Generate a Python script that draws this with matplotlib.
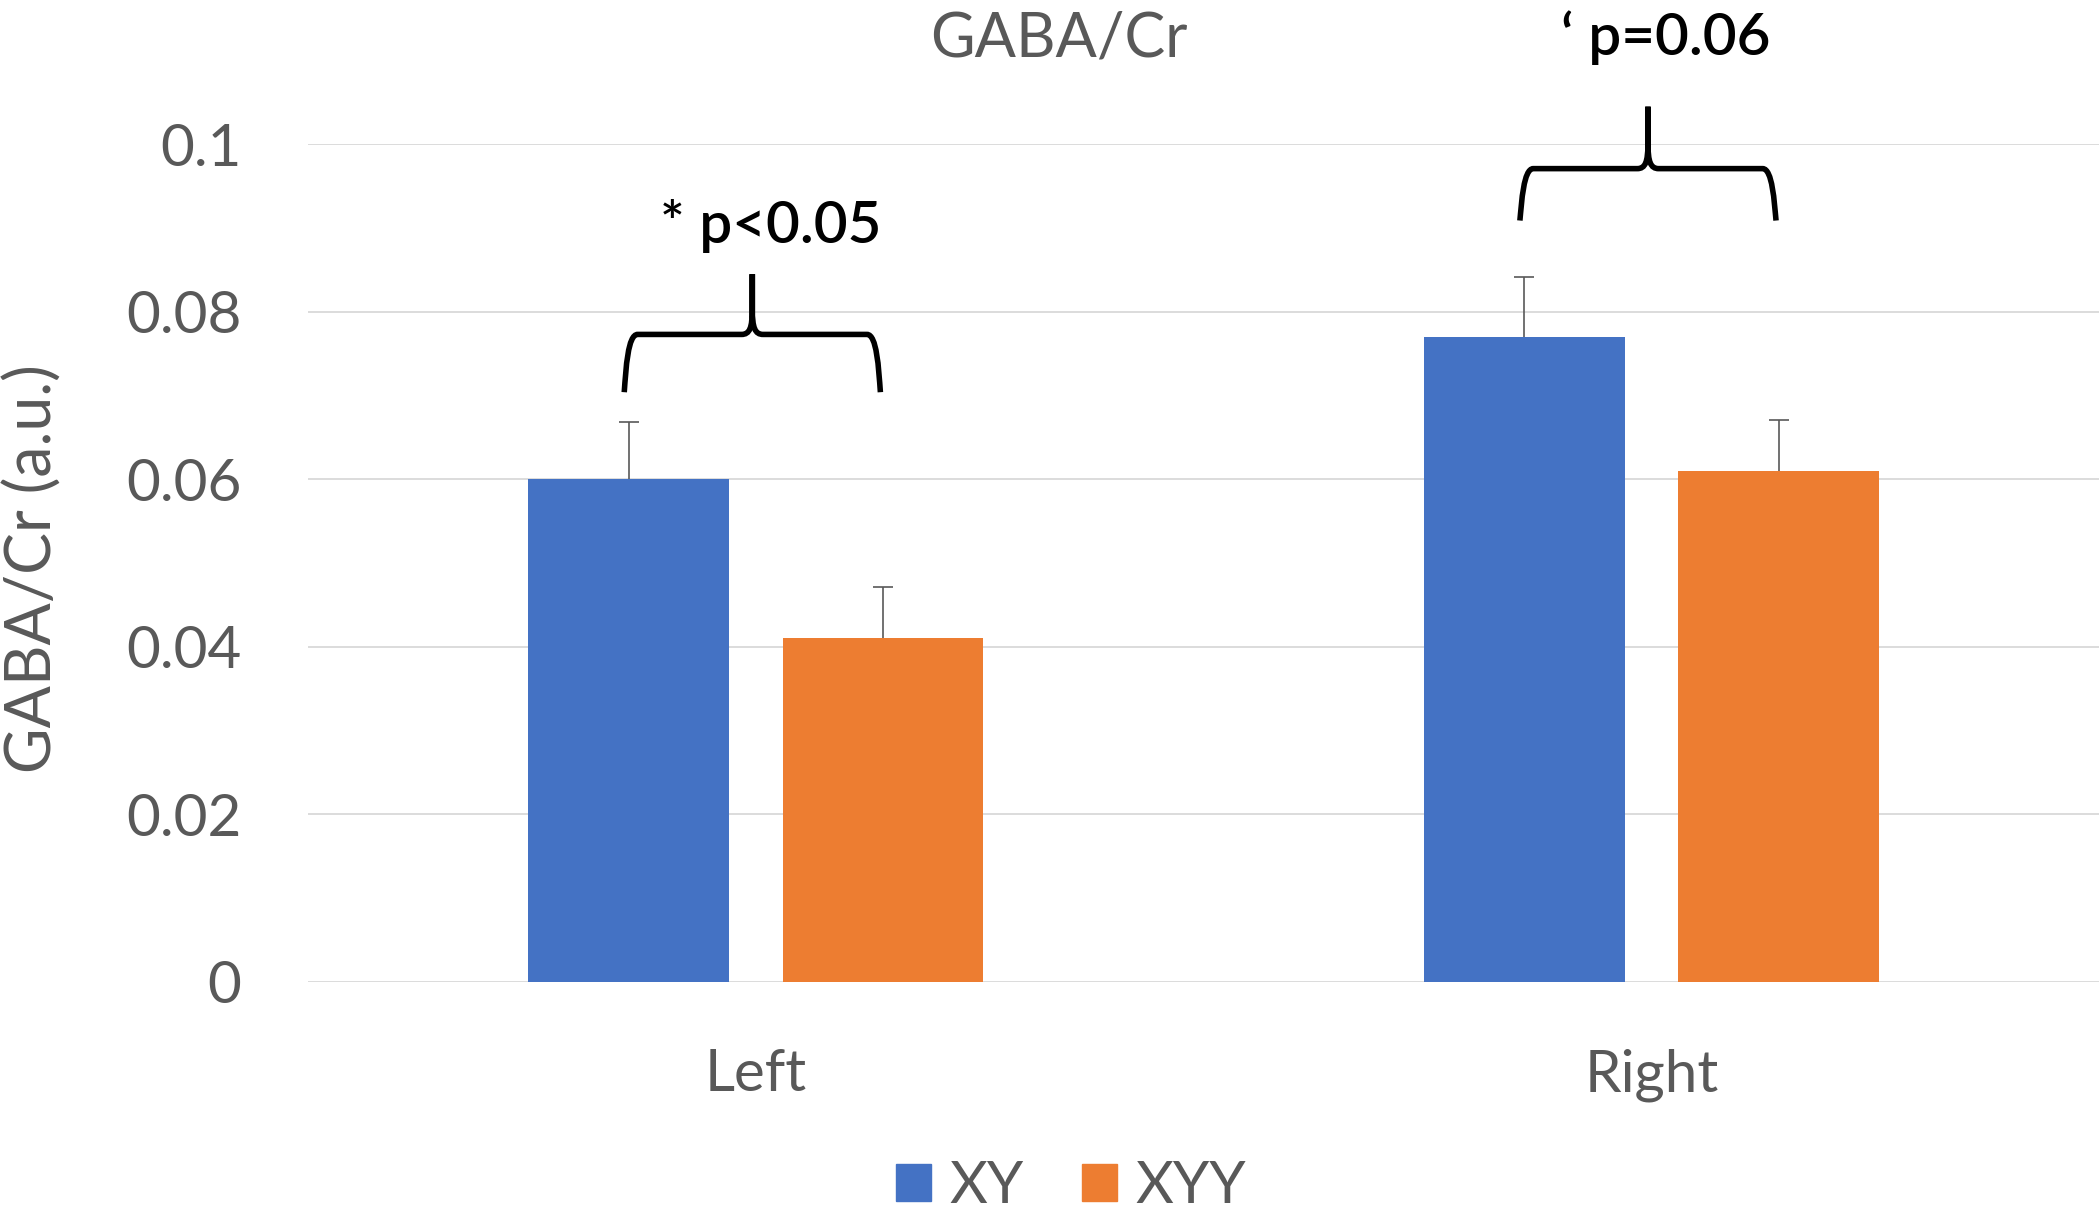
import numpy as np
import matplotlib
matplotlib.use('Agg')
import matplotlib.pyplot as plt
from matplotlib.path import Path
from matplotlib.patches import PathPatch, Patch

plt.rcParams['font.family'] = ['Lato', 'DejaVu Sans']

categories = ['Left', 'Right']
groups = ['XY', 'XYY']
xy_vals = [0.060, 0.077]
xyy_vals = [0.041, 0.061]
xy_err = [0.0069, 0.0072]
xyy_err = [0.0061, 0.0061]
p_labels = ['* p<0.05', '\u2018 p=0.06']

cols = {'XY': '#4472C4', 'XYY': '#ED7D31', 'txt': '#595959', 'grid': '#D9D9D9'}

# brace heights: tip, bar, top ; label y
brace_y = [(0.0704, 0.0773, 0.0845), (0.0909, 0.0971, 0.1045)]
label_y = [0.0902, 0.1127]

fig = plt.figure(figsize=(21, 12.13), dpi=100)
ax = fig.add_axes([0.1467, 0.1907, 0.853, 0.6903])

x = np.arange(len(categories))
w = 0.224
off = 0.142
ax.bar(x - off, xy_vals, w, color=cols['XY'], label='XY', zorder=2)
ax.bar(x + off, xyy_vals, w, color=cols['XYY'], label='XYY', zorder=2)
for xs, v, e in [(x - off, xy_vals, xy_err), (x + off, xyy_vals, xyy_err)]:
    eb = ax.errorbar(xs, v, yerr=[np.zeros(len(v)), e], fmt='none', ecolor='#595959',
                     elinewidth=1.2, capsize=7, capthick=1.2, zorder=3)
    eb[1][0].set_visible(False)  # no cap at the bar top

ax.set_xlim(-0.5, 1.5)
ax.set_ylim(0, 0.1)
ax.set_yticks([0, 0.02, 0.04, 0.06, 0.08, 0.1])
ax.set_yticklabels(['0', '0.02', '0.04', '0.06', '0.08', '0.1'])
ax.set_xticks(x)
ax.set_xticklabels(categories)
ax.tick_params(axis='both', length=0, labelsize=42, labelcolor=cols['txt'])
ax.tick_params(axis='y', pad=48)
ax.tick_params(axis='x', pad=48)
ax.grid(axis='y', color=cols['grid'], lw=1.3, zorder=0)
ax.set_axisbelow(True)
for s in ax.spines.values():
    s.set_visible(False)


def brace(ax, x0, x1, yt, yb, ytop):
    xm = (x0 + x1) / 2
    verts, codes = [], []
    for xe, sgn in [(x0, 1), (x1, -1)]:
        verts += [(xe, yt), (xe + sgn*0.002, yb - 0.004), (xe + sgn*0.004, yb),
                  (xe + sgn*0.015, yb), (xm - sgn*0.012, yb),
                  (xm - sgn*0.003, yb), (xm, yb + 0.0008), (xm, yb + 0.003),
                  (xm, ytop)]
        codes += [Path.MOVETO, Path.CURVE4, Path.CURVE4, Path.CURVE4, Path.LINETO,
                  Path.CURVE4, Path.CURVE4, Path.CURVE4, Path.LINETO]
    ax.add_patch(PathPatch(Path(verts, codes), fc='none', ec='black', lw=4,
                           clip_on=False, zorder=4))


for i in range(len(categories)):
    yt, yb, ytop = brace_y[i]
    brace(ax, x[i] - off - 0.005, x[i] + off - 0.003, yt, yb, ytop)
    ax.text(x[i] + 0.016, label_y[i], p_labels[i], ha='center', va='center',
            fontsize=42, color='black', fontweight='semibold', clip_on=False)

fig.text(0.0155, 0.531, 'GABA/Cr (a.u.)', rotation=90, ha='center', va='center',
         fontsize=45, color=cols['txt'])

fig.text(0.504, 0.968, 'GABA/Cr', ha='center', va='center', fontsize=44,
         color=cols['txt'])

handles = [Patch(color=cols[g]) for g in groups]
fig.legend(handles, groups, loc='center', bbox_to_anchor=(0.51, 0.022), ncol=2,
           frameon=False, fontsize=42, labelcolor=cols['txt'], handlelength=0.6,
           handleheight=0.6, handletextpad=0.32, columnspacing=1.0)

fig.savefig('out.png', dpi=100)
